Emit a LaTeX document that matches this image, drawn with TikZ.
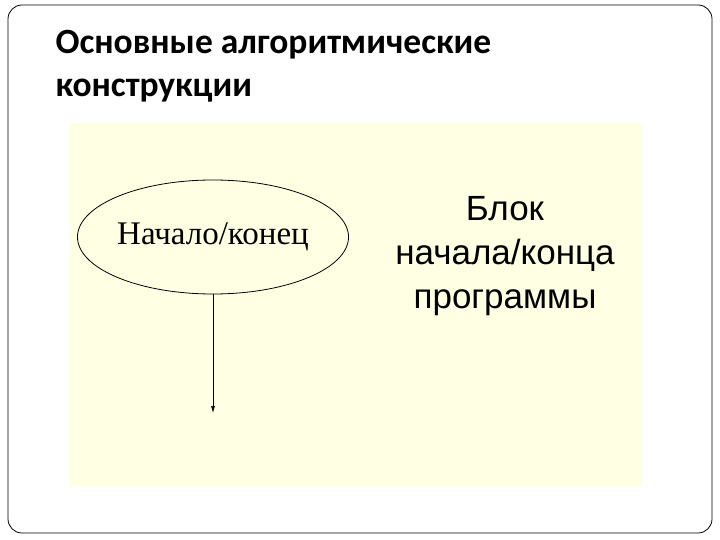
\documentclass[tikz,border=0pt]{standalone}
\usepackage{fontspec}
\setmainfont{Liberation Serif}
\newfontfamily\titlefont{Carlito}
\newfontfamily\armfont{Liberation Sans}
\usetikzlibrary{arrows.meta,shapes.geometric}
\begin{document}
\begin{tikzpicture}[x=1pt,y=-1pt,
  flow/.style={-{Latex[length=7pt,width=4pt]},line width=0.7pt}]
\definecolor{panelyellow}{HTML}{FFFFE3}
\useasboundingbox (0,0) rectangle (720,540);
\draw[line width=0.8pt,rounded corners=14pt] (8,5) rectangle (712,533);
\node[anchor=west,font=\titlefont\bfseries\fontsize{35.5}{43}\selectfont,align=left] (title) at (52,66) {Основные алгоритмические\\конструкции};
\fill[panelyellow] (70,123) rectangle (642,486);
\node[draw,ellipse,line width=0.8pt,minimum width=250pt,minimum height=114pt,inner sep=0pt,font=\fontsize{33}{38}\selectfont] (e) at (213,237) {Начало/конец};
\coordinate (end) at (213,413);
\draw[flow] (e.south) -- (end);
\node[align=center,font=\armfont\fontsize{35}{44}\selectfont] (lbl) at (505,256) {Блок\\начала/конца\\программы};
\end{tikzpicture}
\end{document}
